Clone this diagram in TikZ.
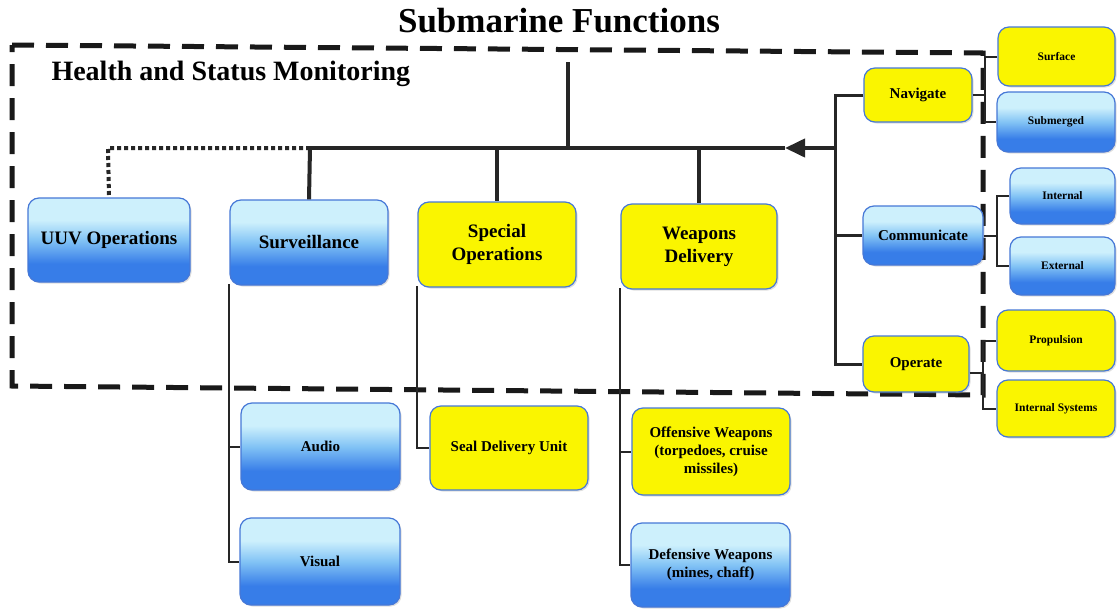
\documentclass[tikz,border=0pt]{standalone}
\usepackage{fontspec}
\setmainfont{Liberation Serif}
\usetikzlibrary{arrows.meta,shadows}
\definecolor{btop}{RGB}{205,240,252}
\definecolor{bmid}{RGB}{130,195,245}
\definecolor{bbot}{RGB}{55,125,232}
\definecolor{yfill}{RGB}{250,245,0}
\definecolor{edge}{RGB}{70,120,215}
\pgfdeclareverticalshading{bluebox}{100bp}{color(0bp)=(bbot); color(25bp)=(bbot); color(36bp)=(bbot); color(50bp)=(bmid); color(62bp)=(btop); color(75bp)=(btop); color(100bp)=(btop)}
\tikzset{
  box/.style={draw=edge, line width=1.2pt, rounded corners=11pt, align=center,
    font=\bfseries, text=black, inner sep=2pt,
    drop shadow={opacity=0.25, shadow xshift=1.5pt, shadow yshift=-1.5pt}},
  bluebox/.style={box, shading=bluebox},
  yellowbox/.style={box, fill=yfill},
  bigtext/.style={font=\bfseries\fontsize{19}{23}\selectfont},
  midtext/.style={font=\bfseries\fontsize{15}{18}\selectfont},
  smalltext/.style={font=\bfseries\fontsize{11.5}{13}\selectfont},
  trunk/.style={line width=4pt, draw=black!85},
  mid/.style={line width=3pt, draw=black!85},
  leg/.style={line width=2pt, draw=black!85},
  dotline/.style={line width=4pt, dash pattern=on 4pt off 3pt, draw=black!85},
  dashrect/.style={line width=5pt, dash pattern=on 22pt off 12pt, draw=black!90},
}
\begin{document}
\begin{tikzpicture}[x=1pt,y=-1pt]
\useasboundingbox (0,0) rectangle (1119,613);
\fill[white] (0,0) rectangle (1119,613);

% titles
\node[font=\bfseries\fontsize{35}{38}\selectfont] (title) at (559,21) {Submarine Functions};
\node[font=\bfseries\fontsize{28}{31}\selectfont, anchor=west] (hsm) at (48,74) {Health and Status Monitoring};

% monitoring boundary
\draw[dashrect] (12,45) -- (983,53) -- (983,395) -- (12,386) -- cycle;

% first-level functions
\node[bluebox, bigtext, minimum width=162pt, minimum height=84pt] (uuv) at (109,240) {UUV Operations};
\node[bluebox, bigtext, minimum width=158pt, minimum height=85pt] (surv) at (309,242.5) {Surveillance};
\node[yellowbox, bigtext, minimum width=158pt, minimum height=85pt] (spec) at (497,244.5) {Special\\Operations};
\node[yellowbox, bigtext, minimum width=156pt, minimum height=85pt] (weap) at (699,246.5) {Weapons\\Delivery};

% support functions
\node[yellowbox, midtext, minimum width=108pt, minimum height=54pt] (nav) at (918,95) {Navigate};
\node[bluebox, midtext, minimum width=120pt, minimum height=59pt] (comm) at (923,235.5) {Communicate};
\node[yellowbox, midtext, minimum width=106pt, minimum height=56pt] (op) at (916,364) {Operate};

\node[yellowbox, smalltext, minimum width=117pt, minimum height=59pt] (surf) at (1056.5,56.5) {Surface};
\node[bluebox, smalltext, minimum width=118pt, minimum height=60pt] (subm) at (1056,122) {Submerged};
\node[bluebox, smalltext, minimum width=105pt, minimum height=56pt] (intl) at (1062.5,196) {Internal};
\node[bluebox, smalltext, minimum width=105pt, minimum height=58pt] (extl) at (1062.5,266) {External};
\node[yellowbox, smalltext, minimum width=118pt, minimum height=61pt] (prop) at (1056,340.5) {Propulsion};
\node[yellowbox, smalltext, minimum width=118pt, minimum height=57pt] (isys) at (1056,408.5) {Internal Systems};

% second-level functions
\node[bluebox, midtext, minimum width=159pt, minimum height=87pt] (audio) at (320.5,446.5) {Audio};
\node[bluebox, midtext, minimum width=160pt, minimum height=87pt] (visual) at (320,561.5) {Visual};
\node[yellowbox, midtext, minimum width=158pt, minimum height=84pt] (seal) at (509,448) {Seal Delivery Unit};
\node[yellowbox, midtext, minimum width=158pt, minimum height=87pt] (off) at (711,451.5) {Offensive Weapons\\(torpedoes, cruise\\missiles)};
\node[bluebox, midtext, minimum width=159pt, minimum height=84pt] (def) at (710.5,565) {Defensive Weapons\\(mines, chaff)};

% main trunk and bus
\coordinate (root) at (568,62);
\coordinate (busroot) at (568,148);
\coordinate (busL) at (310,148);
\coordinate (tip) at (785,148);
\coordinate (busR) at (835,148);
\coordinate (rvtop) at (835,95);
\coordinate (rvbot) at (835,364);
\coordinate (uuvc) at (108,148);

\draw[trunk] (root) -- (busroot);
\draw[trunk] (busL) -- (tip);
\draw[trunk, -{Triangle[length=20pt,width=18pt]}] (busR) -- (tip);
\draw[trunk] (busL) -- (surv.north);
\draw[trunk] (spec.north |- busL) -- (spec.north);
\draw[trunk] (weap.north |- busL) -- (weap.north);
\draw[dotline] (busL) -- (uuvc) -- (uuv.north);

% support branch
\draw[mid] (nav.west) -- (rvtop) -- (rvbot) -- (op.west);
\draw[mid] (comm.west) -- (comm.west -| rvtop);

% support sub-branches
\coordinate (navj) at (985,95);
\coordinate (commj) at (997,235.5);
\coordinate (opj) at (983,373);
\draw[leg] (nav.east) -- (navj);
\draw[leg] (surf.west) -| (navj) |- (subm.west);
\draw[leg] (comm.east) -- (commj);
\draw[leg] (intl.west) -| (commj) |- (extl.west);
\draw[leg] ([yshift=-9pt]op.east) -- (opj);
\draw[leg] (prop.west) -| (opj) |- (isys.west);

% second-level legs
\coordinate (survleg) at (229,284);
\coordinate (specleg) at (417,286);
\coordinate (weapleg) at (620,288);
\draw[leg] (survleg) |- (visual.west);
\draw[leg] (audio.west -| survleg) -- (audio.west);
\draw[leg] (specleg) |- (seal.west);
\draw[leg] (weapleg) |- (def.west);
\draw[leg] (off.west -| weapleg) -- (off.west);
\end{tikzpicture}
\end{document}
